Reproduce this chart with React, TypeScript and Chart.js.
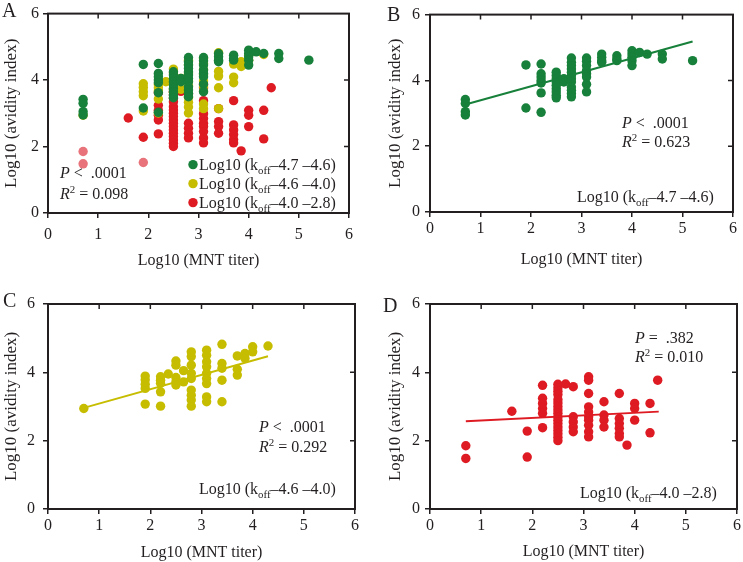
import React, { useEffect, useRef } from "react";
import { Chart, registerables } from "chart.js";

Chart.register(...registerables);

const SERIF = "'Liberation Serif', 'Times New Roman', serif";
const INK = "#231f20";
const GREEN = "#17803a";
const YELLOW = "#c6bd00";
const RED = "#de1a22";
const PINK = "#e8737b";
const FS = 16;

const xTickValues = [0, 1, 2, 3, 4, 5, 6];
const yTickValues = [0, 2, 4, 6];
const xTitle = "Log10 (MNT titer)";
const yTitle = "Log10 (avidity index)";

// koff -4.7 to -4.6 (green)
const greenX = [
  0.7, 0.7, 0.7, 0.7,
  1.9, 1.9,
  2.2, 2.2, 2.2, 2.2, 2.2, 2.2, 2.2,
  2.5, 2.5, 2.5, 2.5, 2.5, 2.5, 2.5, 2.5, 2.5,
  2.65, 2.65,
  2.8, 2.8, 2.8, 2.8, 2.8, 2.8, 2.8, 2.8, 2.8, 2.8, 2.8, 2.8,
  3.1, 3.1, 3.1, 3.1, 3.1, 3.1, 3.1, 3.1,
  3.4, 3.4, 3.4, 3.4,
  3.7, 3.7, 3.7,
  4.0, 4.0, 4.0, 4.0, 4.0,
  4.15, 4.3, 4.6, 4.6, 5.2,
];
const greenY = [
  3.42, 3.3, 3.05, 2.95,
  4.47, 3.16,
  4.5, 4.2, 4.1, 4.0, 3.92, 3.62, 3.03,
  4.25, 4.15, 4.05, 3.95, 3.85, 3.75, 3.65, 3.55, 3.47,
  4.05, 3.95,
  4.68, 4.55, 4.45, 4.35, 4.25, 4.15, 4.05, 3.95, 3.8, 3.7, 3.6, 3.5,
  4.68, 4.58, 4.45, 4.3, 4.2, 4.1, 3.88, 3.65,
  4.8, 4.7, 4.6, 4.55,
  4.75, 4.65, 4.6,
  4.9, 4.8, 4.7, 4.6, 4.45,
  4.85, 4.8, 4.8, 4.65, 4.6,
];

// koff -4.6 to -4.0 (yellow)
const yellowX = [
  0.7,
  1.9, 1.9, 1.9, 1.9, 1.9,
  2.2, 2.2, 2.2, 2.2, 2.2,
  2.35,
  2.5, 2.5, 2.5, 2.5, 2.5,
  2.65, 2.65,
  2.8, 2.8, 2.8, 2.8, 2.8, 2.8, 2.8, 2.8, 2.8,
  3.1, 3.1, 3.1, 3.1, 3.1, 3.1, 3.1, 3.1, 3.1,
  3.4, 3.4, 3.4, 3.4, 3.4,
  3.7, 3.7, 3.7,
  3.85, 3.85,
  4.0, 4.0,
  4.3,
];
const yellowY = [
  2.94,
  3.89, 3.78, 3.65, 3.53, 3.07,
  3.87, 3.77, 3.68, 3.43, 3.01,
  3.95,
  4.33, 4.21, 3.85, 3.72, 3.63,
  4.05, 3.72,
  4.6, 4.46, 4.21, 3.97, 3.82, 3.48, 3.33, 3.19, 3.01,
  4.65, 4.5, 4.31, 4.16, 3.97, 3.82, 3.67, 3.28, 3.14,
  4.82, 4.26, 4.12, 3.77, 3.14,
  4.48, 4.09, 3.92,
  4.55, 4.41,
  4.75, 4.6,
  4.77,
];

// koff -4.0 to -2.8 (red)
const redX = [
  0.7, 0.7,
  1.6,
  1.9, 1.9,
  2.2, 2.2, 2.2, 2.2, 2.2, 2.2,
  2.5, 2.5, 2.5, 2.5, 2.5, 2.5, 2.5, 2.5, 2.5, 2.5, 2.5, 2.5, 2.5, 2.5, 2.5, 2.5, 2.5,
  2.65,
  2.8, 2.8, 2.8, 2.8, 2.8,
  3.1, 3.1, 3.1, 3.1, 3.1, 3.1, 3.1, 3.1, 3.1, 3.1,
  3.4, 3.4, 3.4, 3.4,
  3.7, 3.7, 3.7, 3.7, 3.7, 3.7,
  3.85,
  4.0, 4.0, 4.0,
  4.3, 4.3,
  4.45,
];
const redY = [
  1.85, 1.48,
  2.86,
  2.28, 1.52,
  3.62, 3.24, 3.09, 2.94, 2.8, 2.38,
  3.65, 3.55, 3.45, 3.35, 3.2, 3.1, 3.0, 2.9, 2.8, 2.7, 2.6, 2.5, 2.4, 2.3, 2.2, 2.1, 2.0,
  3.66,
  3.58, 2.7, 2.55, 2.4, 2.26,
  3.87, 3.77, 3.38, 2.99, 2.84, 2.7, 2.6, 2.45, 2.26, 2.11,
  3.14, 2.75, 2.6, 2.4,
  3.38, 2.65, 2.5, 2.36, 2.21, 2.11,
  1.87,
  3.09, 2.94, 2.6,
  3.09, 2.23,
  3.77,
];
// red points shown in a faded tone in panel A
const redFadedInA = [0, 1, 4];

// fitted regression lines (end points)
const fitGreenX = [0.7, 5.2];
const fitGreenY = [3.27, 5.18];
const fitYellowX = [0.7, 4.3];
const fitYellowY = [2.96, 4.47];
const fitRedX = [0.7, 4.47];
const fitRedY = [2.57, 2.85];

type Seg = { t: string; i?: boolean; sub?: boolean; sup?: boolean };

const pts = (xs: number[], ys: number[]) => xs.map((x, k) => ({ x, y: ys[k] }));

const koffLabel = (a: string, b: string): Seg[] => [
  { t: "Log10 (k" },
  { t: "off", sub: true },
  { t: "\u2013" + a + " \u2013" + b + ")" },
];

function drawRich(ctx: CanvasRenderingContext2D, x: number, y: number, segs: Seg[], size: number) {
  let cx = x;
  for (const s of segs) {
    const small = s.sub || s.sup;
    const fs = small ? size * 0.68 : size;
    ctx.font = `${s.i ? "italic " : ""}${fs}px ${SERIF}`;
    const dy = s.sub ? size * 0.28 : s.sup ? -size * 0.38 : 0;
    ctx.fillText(s.t, cx, y + dy);
    cx += ctx.measureText(s.t).width;
  }
}

type TextItem = { dx: number; dy: number; segs: Seg[]; dot?: string };

type Panel = {
  left: number; top: number; w: number; h: number;
  pad: { left: number; top: number; right: number; bottom: number };
  xH: number; yW: number; xTitlePad: number; yTitlePad: number; xTickPad: number; yTickPad: number;
  letter: { t: string; x: number; y: number };
  datasets: any[];
  texts: TextItem[];
};

const ptR = 4.7;

const scatterSet = (xs: number[], ys: number[], color: string | string[]) => ({
  type: "scatter",
  data: pts(xs, ys),
  backgroundColor: color,
  borderWidth: 0,
  pointRadius: ptR,
  pointHoverRadius: ptR,
});
const fitSet = (xs: number[], ys: number[], color: string) => ({
  type: "line",
  data: pts(xs, ys),
  borderColor: color,
  borderWidth: 2,
  pointRadius: 0,
  fill: false,
});

const redColorsA = redX.map((_, k) => (redFadedInA.includes(k) ? PINK : RED));

const panels: Panel[] = [
  {
    left: 0, top: 0, w: 370, h: 280,
    pad: { left: 0, top: 12, right: 21, bottom: 0 },
    xH: 67, yW: 48, xTitlePad: 10, yTitlePad: 1, xTickPad: 7, yTickPad: 4,
    letter: { t: "A", x: 2, y: 17 },
    datasets: [
      scatterSet(greenX, greenY, GREEN),
      scatterSet(yellowX, yellowY, YELLOW),
      scatterSet(redX, redY, redColorsA),
    ],
    texts: [
      { dx: 12, dy: 164, segs: [{ t: "P", i: true }, { t: " <  .0001" }] },
      { dx: 12, dy: 185, segs: [{ t: "R", i: true }, { t: "2", sup: true }, { t: " = 0.098" }] },
      { dx: 151, dy: 156, segs: koffLabel("4.7", "4.6"), dot: GREEN },
      { dx: 151, dy: 175, segs: koffLabel("4.6", "4.0"), dot: YELLOW },
      { dx: 151, dy: 194, segs: koffLabel("4.0", "2.8"), dot: RED },
    ],
  },
  {
    left: 370, top: 0, w: 373, h: 280,
    pad: { left: 12, top: 10, right: 10, bottom: 0 },
    xH: 68, yW: 48, xTitlePad: 11, yTitlePad: 3, xTickPad: 2, yTickPad: 5,
    letter: { t: "B", x: 17, y: 21 },
    datasets: [fitSet(fitGreenX, fitGreenY, GREEN), scatterSet(greenX, greenY, GREEN)],
    texts: [
      { dx: 192, dy: 113, segs: [{ t: "P", i: true }, { t: " <  .0001" }] },
      { dx: 192, dy: 132, segs: [{ t: "R", i: true }, { t: "2", sup: true }, { t: " = 0.623" }] },
      { dx: 147, dy: 187, segs: koffLabel("4.7", "4.6") },
    ],
  },
  {
    left: 0, top: 280, w: 370, h: 282,
    pad: { left: 0, top: 24, right: 15, bottom: 0 },
    xH: 53, yW: 48, xTitlePad: 0, yTitlePad: 1, xTickPad: 2, yTickPad: 8,
    letter: { t: "C", x: 3, y: 27 },
    datasets: [fitSet(fitYellowX, fitYellowY, YELLOW), scatterSet(yellowX, yellowY, YELLOW)],
    texts: [
      { dx: 211, dy: 128, segs: [{ t: "P", i: true }, { t: " <  .0001" }] },
      { dx: 211, dy: 148, segs: [{ t: "R", i: true }, { t: "2", sup: true }, { t: " = 0.292" }] },
      { dx: 151, dy: 190, segs: koffLabel("4.6", "4.0") },
    ],
  },
  {
    left: 370, top: 280, w: 373, h: 282,
    pad: { left: 12, top: 24, right: 5, bottom: 0 },
    xH: 53, yW: 48, xTitlePad: 1, yTitlePad: 3, xTickPad: 2, yTickPad: 5,
    letter: { t: "D", x: 13, y: 32 },
    datasets: [fitSet(fitRedX, fitRedY, RED), scatterSet(redX, redY, RED)],
    texts: [
      { dx: 205, dy: 39, segs: [{ t: "P", i: true }, { t: " =  .382" }] },
      { dx: 205, dy: 58, segs: [{ t: "R", i: true }, { t: "2", sup: true }, { t: " = 0.010" }] },
      { dx: 150, dy: 194, segs: koffLabel("4.0", "2.8") },
    ],
  },
];

function PanelChart({ p }: { p: Panel }) {
  const ref = useRef<HTMLCanvasElement | null>(null);
  useEffect(() => {
    if (!ref.current) return;
    const font = { family: SERIF, size: FS };
    const deco = {
      id: "deco",
      afterDraw(chart: any) {
        const { ctx, chartArea: a, scales } = chart;
        ctx.save();
        ctx.strokeStyle = INK;
        ctx.lineWidth = 2;
        ctx.strokeRect(a.left, a.top, a.right - a.left, a.bottom - a.top);
        ctx.lineWidth = 1.5;
        ctx.beginPath();
        xTickValues.forEach((v) => {
          const px = scales.x.getPixelForValue(v);
          if (v > 0 && v < 6) { ctx.moveTo(px, a.top); ctx.lineTo(px, a.top + 5); }
        });
        yTickValues.forEach((v) => {
          const py = scales.y.getPixelForValue(v);
          if (v > 0 && v < 6) { ctx.moveTo(a.right, py); ctx.lineTo(a.right - 5, py); }
        });
        ctx.stroke();
        ctx.fillStyle = INK;
        ctx.textBaseline = "alphabetic";
        ctx.textAlign = "left";
        for (const t of p.texts) {
          const x = a.left + t.dx;
          const y = a.top + t.dy;
          if (t.dot) {
            ctx.save();
            ctx.fillStyle = t.dot;
            ctx.beginPath();
            ctx.arc(x - 6, y - 5, ptR, 0, Math.PI * 2);
            ctx.fill();
            ctx.restore();
          }
          drawRich(ctx, x, y, t.segs, FS);
        }
        ctx.font = `20px ${SERIF}`;
        ctx.fillText(p.letter.t, p.letter.x, p.letter.y);
        ctx.restore();
      },
    };
    const chart = new Chart(ref.current, {
      type: "scatter",
      data: { datasets: p.datasets },
      options: {
        responsive: false,
        animation: false,
        devicePixelRatio: 1,
        layout: { padding: p.pad },
        plugins: { legend: { display: false }, tooltip: { enabled: false } },
        scales: {
          x: {
            type: "linear", min: 0, max: 6,
            afterBuildTicks: (s: any) => { s.ticks = xTickValues.map((v) => ({ value: v })); },
            afterFit: (s: any) => { s.height = p.xH; },
            grid: { drawOnChartArea: false, drawTicks: true, tickLength: 5, color: INK, lineWidth: 1.5 },
            border: { display: true, color: INK, width: 2 },
            ticks: { font, color: INK, padding: p.xTickPad, maxRotation: 0 },
            title: { display: true, text: xTitle, font, color: INK, padding: { top: 0, bottom: p.xTitlePad } },
          },
          y: {
            type: "linear", min: 0, max: 6,
            afterBuildTicks: (s: any) => { s.ticks = yTickValues.map((v) => ({ value: v })); },
            afterFit: (s: any) => { s.width = p.yW; },
            grid: { drawOnChartArea: false, drawTicks: true, tickLength: 5, color: INK, lineWidth: 1.5 },
            border: { display: true, color: INK, width: 2 },
            ticks: { font, color: INK, padding: p.yTickPad },
            title: { display: true, text: yTitle, font: { family: SERIF, size: 17 }, color: INK, padding: { top: p.yTitlePad, bottom: 0 } },
          },
        },
      } as any,
      plugins: [deco],
    } as any);
    return () => chart.destroy();
  }, [p]);
  return (
    <canvas
      ref={ref}
      width={p.w}
      height={p.h}
      style={{ position: "absolute", left: p.left, top: p.top, width: p.w, height: p.h }}
    />
  );
}

export default function App() {
  return (
    <div style={{ position: "absolute", left: 0, top: 0, width: 743, height: 562, background: "#ffffff" }}>
      {panels.map((p) => (
        <PanelChart key={p.letter.t} p={p} />
      ))}
    </div>
  );
}
